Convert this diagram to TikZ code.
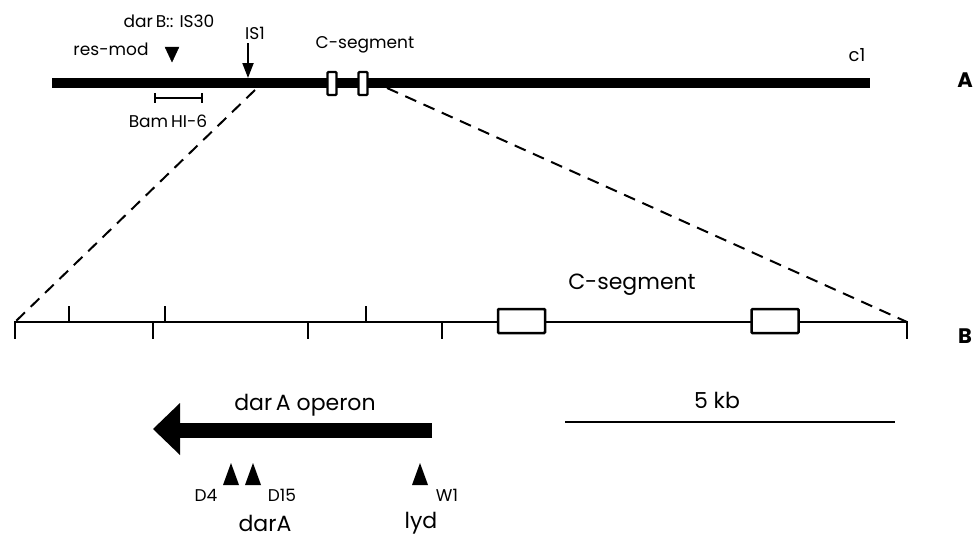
\documentclass[tikz,border=0pt]{standalone}
\usepackage{fontspec}
\setmainfont{Poppins}
\usetikzlibrary{arrows.meta}
\newcommand{\fs}[1]{\fontsize{#1}{#1}\selectfont}
\tikzset{
  lbl/.style={inner sep=0pt, anchor=center},
  thickbar/.style={line width=10pt, line cap=butt},
  thinline/.style={line width=2pt},
  dashline/.style={line width=2pt, dash pattern=on 12pt off 8pt},
  smallbox/.style={draw, fill=white, line width=2.2pt, minimum width=9pt, minimum height=23pt, inner sep=0pt, rounded corners=1pt},
  bigbox/.style={draw, fill=white, line width=2.5pt, minimum width=47pt, minimum height=24pt, inner sep=0pt, rounded corners=1pt},
  tri/.style={fill=black},
  panel/.style={lbl, font=\fs{21}\bfseries}
}
\begin{document}
\begin{tikzpicture}[x=1pt,y=-1pt]
\useasboundingbox (0,0) rectangle (973,538);

% ---------- A: chromosome ----------
\coordinate (barL) at (52,83);
\coordinate (barR) at (870,83);
\draw[thickbar] (barL) -- (barR);
\node[smallbox] (cbox1) at (332,83.5) {};
\node[smallbox] (cbox2) at (363,83.5) {};

\node[lbl, font=\fs{17}] (darB) at (169,21) {dar\,B:: IS30};
\node[lbl, font=\fs{17}] (resmod) at (111,49) {res-mod};
\filldraw[tri] (165,47) -- (179,47) -- (172,62) -- cycle;

\node[lbl, font=\fs{17}] (is1) at (255,33) {IS1};
\coordinate (is1top) at (248,43);
\coordinate (is1tip) at (248,78);
\draw[line width=2pt, -{Triangle[length=15pt,width=11pt]}] (is1top) -- (is1tip);

\coordinate (bamL) at (155,98);
\coordinate (bamR) at (202,98);
\draw[line width=2pt] (bamL) -- (bamR);
\draw[line width=2pt] (155,93) -- (155,103);
\draw[line width=2pt] (202,93) -- (202,103);
\node[lbl, font=\fs{17}] (bam) at (168,121) {Bam\,HI-6};

\node[lbl, font=\fs{17}] (cseg1) at (365,45) {C-segment};
\node[lbl, font=\fs{18}] (c1) at (857,55) {c1};
\node[panel] (pA) at (965,80) {A};

% ---------- zoom lines ----------
\coordinate (zl) at (255,90);
\coordinate (zr) at (387,88);
\coordinate (mL) at (15,322);
\coordinate (mR) at (907,322);
\draw[dashline] (zl) -- (mL);
\draw[dashline] (zr) -- (mR);

% ---------- B: C-segment map ----------
\draw[thinline] (mL) -- (mR);
\foreach \x in {15,153,308,442,907} \draw[line width=2.2pt] (\x,321) -- (\x,339);
\foreach \x in {69,165,366} \draw[line width=2.2pt] (\x,306) -- (\x,322);
\node[bigbox] (bbox1) at (521.5,321) {};
\node[bigbox] (bbox2) at (775,321) {};
\node[lbl, font=\fs{22}] (cseg2) at (632,285) {C-segment};
\node[panel] (pB) at (965,336) {B};

% operon arrow
\coordinate (opR) at (432,430);
\coordinate (opL) at (180,430);
\draw[line width=15pt, line cap=butt] (opR) -- (opL);
\fill (180,403) -- (153,429) -- (180,455) -- cycle;
\node[lbl, font=\fs{22}] (operon) at (305,405) {dar\,A operon};

% scale bar
\coordinate (sbL) at (565,422);
\coordinate (sbR) at (895,422);
\draw[line width=2.5pt] (sbL) -- (sbR);
\node[lbl, font=\fs{22}] (kb) at (717,400) {5 kb};

% mutation triangles
\fill (223,485) -- (231,463) -- (239,485) -- cycle;
\fill (245,485) -- (253,463) -- (261,485) -- cycle;
\fill (412,485) -- (420,463) -- (428,485) -- cycle;
\node[lbl, font=\fs{17}] (d4) at (206,495) {D4};
\node[lbl, font=\fs{17}] (d15) at (282,495) {D15};
\node[lbl, font=\fs{17}] (w1) at (447,495) {W1};
\node[lbl, font=\fs{22}] (darA) at (265,523) {darA};
\node[lbl, font=\fs{22}] (lyd) at (421,523) {lyd};
\end{tikzpicture}
\end{document}
